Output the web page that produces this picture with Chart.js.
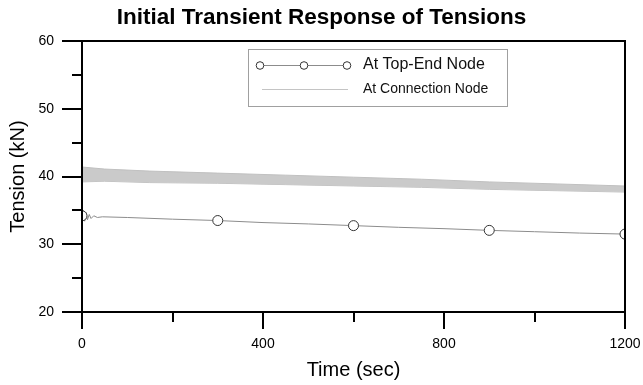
<!DOCTYPE html>
<html>
<head>
<meta charset="utf-8">
<script src="https://cdn.jsdelivr.net/npm/chart.js@4.4.1/dist/chart.umd.min.js"></script>
<style>
  html, body { margin: 0; padding: 0; background: #fff; }
  #wrap { width: 643px; height: 385px; }
</style>
</head>
<body>
<div id="wrap"><canvas id="tensionChart" width="643" height="385"></canvas></div>
<script>
// --- data: tension history (kN) vs time (sec) ---
const topEndTime = [0, 3, 6, 9, 12, 16, 20, 26, 34, 45, 100, 200, 300, 400, 500, 600, 700, 800, 900, 1000, 1100, 1200];
const topEndTension = [34.2, 35.0, 33.4, 34.7, 33.6, 34.4, 33.8, 34.2, 33.95, 34.05, 33.95, 33.7, 33.5, 33.2, 33.0, 32.75, 32.5, 32.3, 32.05, 31.85, 31.65, 31.5];
const topEndMarkerTimes = [0, 300, 600, 900, 1200];

// connection node oscillates fast, drawn as its upper/lower envelope
const connTime = [0, 50, 150, 300, 450, 600, 750, 900, 1050, 1200];
const connUpper = [41.4, 41.1, 40.8, 40.5, 40.2, 39.9, 39.6, 39.2, 38.9, 38.6];
const connLower = [39.2, 39.3, 39.1, 39.0, 38.8, 38.6, 38.4, 38.1, 37.9, 37.7];

const xTickValues = [0, 400, 800, 1200];
const xMinorTicks = [200, 600, 1000];
const yTickValues = [20, 30, 40, 50, 60];
const yMinorTicks = [25, 35, 45, 55];

const labelTop = "At Top-End Node";
const labelConn = "At Connection Node";

const FONT = "'Liberation Sans', Arial, sans-serif";

const toPoints = (xs, ys) => xs.map((x, i) => ({ x: x, y: ys[i] }));

// frame with outward tick marks (long on labelled values, short in between)
const framePlugin = {
  id: "frame",
  afterDatasetsDraw(chart) {
    const { ctx, chartArea: a, scales } = chart;
    ctx.save();
    ctx.strokeStyle = "#000";
    ctx.lineWidth = 2;
    ctx.strokeRect(a.left, a.top, a.right - a.left, a.bottom - a.top);
    ctx.beginPath();
    yTickValues.forEach((v) => {
      const y = Math.round(scales.y.getPixelForValue(v));
      ctx.moveTo(a.left - 20, y);
      ctx.lineTo(a.left, y);
    });
    yMinorTicks.forEach((v) => {
      const y = Math.round(scales.y.getPixelForValue(v));
      ctx.moveTo(a.left - 10, y);
      ctx.lineTo(a.left, y);
    });
    xTickValues.forEach((v) => {
      const x = Math.round(scales.x.getPixelForValue(v));
      ctx.moveTo(x, a.bottom);
      ctx.lineTo(x, a.bottom + 17);
    });
    xMinorTicks.forEach((v) => {
      const x = Math.round(scales.x.getPixelForValue(v));
      ctx.moveTo(x, a.bottom);
      ctx.lineTo(x, a.bottom + 10);
    });
    ctx.stroke();
    ctx.restore();
  },
};

// boxed legend: top-end sample has three open circles, texts in two sizes
const legendPlugin = {
  id: "boxLegend",
  afterDraw(chart) {
    const ctx = chart.ctx;
    const bx = 248, by = 49, bw = 259, bh = 57;
    ctx.save();
    ctx.fillStyle = "#fff";
    ctx.fillRect(bx, by, bw, bh);
    ctx.strokeStyle = "#a0a0a0";
    ctx.lineWidth = 1;
    ctx.strokeRect(bx + 0.5, by + 0.5, bw, bh);

    // row 1
    ctx.strokeStyle = "#8c8c8c";
    ctx.beginPath();
    ctx.moveTo(260, 65.5);
    ctx.lineTo(347, 65.5);
    ctx.stroke();
    ctx.strokeStyle = "#333";
    [260, 304, 347].forEach((cx) => {
      ctx.beginPath();
      ctx.fillStyle = "#fff";
      ctx.arc(cx, 65.5, 3.8, 0, Math.PI * 2);
      ctx.fill();
      ctx.stroke();
    });
    ctx.fillStyle = "#111";
    ctx.textBaseline = "middle";
    ctx.font = "16px " + FONT;
    ctx.fillText(labelTop, 363, 65);

    // row 2
    ctx.strokeStyle = "#c4c4c4";
    ctx.beginPath();
    ctx.moveTo(262, 89.5);
    ctx.lineTo(348, 89.5);
    ctx.stroke();
    ctx.font = "14px " + FONT;
    ctx.fillText(labelConn, 363, 89);
    ctx.restore();
  },
};

new Chart(document.getElementById("tensionChart"), {
  type: "scatter",
  data: {
    datasets: [
      {
        label: labelConn,
        data: toPoints(connTime, connUpper),
        showLine: true,
        borderColor: "#c0c0c0",
        backgroundColor: "#cacaca",
        borderWidth: 1,
        pointRadius: 0,
        fill: "+1",
      },
      {
        label: labelConn + " (lower)",
        data: toPoints(connTime, connLower),
        showLine: true,
        borderColor: "#c0c0c0",
        borderWidth: 1,
        pointRadius: 0,
        fill: false,
      },
      {
        label: labelTop,
        data: toPoints(topEndTime, topEndTension),
        showLine: true,
        borderColor: "#8c8c8c",
        borderWidth: 1,
        fill: false,
        pointRadius: (c) => (c.raw && topEndMarkerTimes.includes(c.raw.x) ? 5 : 0),
        pointBorderColor: "#333",
        pointBackgroundColor: "#fff",
        pointBorderWidth: 1,
      },
    ],
  },
  options: {
    responsive: false,
    animation: false,
    layout: { padding: 0 },
    plugins: {
      legend: { display: false },
      tooltip: { enabled: false },
      title: {
        display: true,
        text: "Initial Transient Response of Tensions",
        color: "#000",
        font: { family: FONT, size: 22.5, weight: "bold" },
        padding: { top: 4, bottom: 10 },
      },
    },
    scales: {
      x: {
        type: "linear",
        min: 0,
        max: 1200,
        afterBuildTicks: (s) => { s.ticks = xTickValues.map((v) => ({ value: v })); },
        afterFit: (s) => { s.height = 73; s.paddingRight = 18; },
        grid: { display: true, drawOnChartArea: false, tickLength: 17, tickColor: "rgba(0,0,0,0)" },
        border: { display: false },
        ticks: {
          color: "#000",
          padding: 7,
          maxRotation: 0,
          font: { family: FONT, size: 14 },
          callback: (v) => String(v),
        },
        title: {
          display: true,
          text: "Time (sec)",
          color: "#000",
          font: { family: FONT, size: 20 },
          padding: { top: 0, bottom: 3 },
        },
      },
      y: {
        type: "linear",
        min: 20,
        max: 60,
        afterBuildTicks: (s) => { s.ticks = yTickValues.map((v) => ({ value: v })); },
        afterFit: (s) => { s.width = 82; },
        grid: { display: true, drawOnChartArea: false, tickLength: 20, tickColor: "rgba(0,0,0,0)" },
        border: { display: false },
        ticks: { color: "#000", padding: 8, font: { family: FONT, size: 14 }, callback: (v) => String(v) },
        title: {
          display: true,
          text: "Tension (kN)",
          color: "#000",
          font: { family: FONT, size: 20 },
          padding: { top: 6, bottom: 0 },
        },
      },
    },
  },
  plugins: [framePlugin, legendPlugin],
});
</script>
</body>
</html>
